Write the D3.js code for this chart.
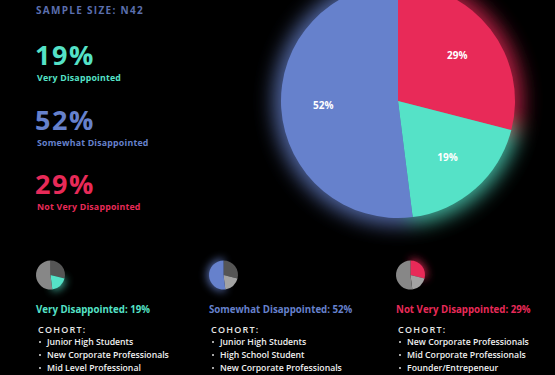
<!DOCTYPE html>
<html>
<head>
<meta charset="utf-8">
<script src="https://cdn.jsdelivr.net/npm/d3@7"></script>
<style>
  html, body { margin: 0; padding: 0; background: #000; }
  svg { display: block; }
  text { font-family: "Open Sans", "DejaVu Sans", sans-serif; }
</style>
</head>
<body>
<svg id="chart" width="555" height="375"></svg>
<script>
// the data
var categories = ["Very Disappointed", "Somewhat Disappointed", "Not Very Disappointed"];
var shares = [19, 52, 29];
var sampleSize = "N42";
// order of slices clockwise from 12 o'clock
var pieOrder = [2, 0, 1];
var cohorts = [
    ["Junior High Students", "New Corporate Professionals", "Mid Level Professional"],
    ["Junior High Students", "High School Student", "New Corporate Professionals"],
    ["New Corporate Professionals", "Mid Corporate Professionals", "Founder/Entrepeneur"]
];

var colors = ["#55e2c7", "#6681cc", "#e82a58"];
var greys = ["#a3a3a3", "#878787", "#555555"];

var svg = d3.select('#chart');
var defs = svg.append('defs');

function glow(id, sd){
    var f = defs.append('filter').attr('id', id)
        .attr('x', '-50%').attr('y', '-50%').attr('width', '200%').attr('height', '200%');
    f.append('feGaussianBlur').attr('stdDeviation', sd);
}
glow('bigGlow', 10);
glow('smallGlow', 4);

var pie = d3.pie().sort(null).value(i => shares[i]);
var slices = pie(pieOrder);

// big pie
var R = 117;
var big = svg.append('g').attr('transform', 'translate(398,101)');
var arc = d3.arc().innerRadius(0).outerRadius(R);
var glowArc = d3.arc().innerRadius(0).outerRadius(R + 7);
var labelArc = d3.arc().innerRadius(R * 0.64).outerRadius(R * 0.64);

big.append('g').attr('filter', 'url(#bigGlow)').attr('opacity', 0.8)
    .selectAll('path').data(slices).enter().append('path')
    .attr('d', glowArc).attr('fill', d => colors[d.data]);

big.selectAll('path.slice').data(slices).enter().append('path')
    .attr('class', 'slice')
    .attr('d', arc).attr('fill', d => colors[d.data]);

big.selectAll('text').data(slices).enter().append('text')
    .attr('transform', d => 'translate(' + labelArc.centroid(d) + ')')
    .attr('text-anchor', 'middle').attr('dy', '0.35em')
    .attr('fill', '#fff').attr('font-size', 10).attr('font-weight', 700)
    .text(d => shares[d.data] + '%');

// left summary
svg.append('text').attr('x', 36).attr('y', 14)
    .attr('fill', '#5b6fae').attr('font-size', 10).attr('font-weight', 700)
    .attr('letter-spacing', 1.3)
    .text('SAMPLE SIZE: ' + sampleSize);

var scY = d3.scalePoint().domain(categories).range([65, 194]);
var left = svg.selectAll('g.sum').data(categories).enter().append('g')
    .attr('class', 'sum')
    .attr('transform', d => 'translate(35,' + scY(d) + ')');
left.append('text').attr('font-size', 27).attr('font-weight', 700)
    .attr('letter-spacing', 1.5)
    .attr('fill', (d, i) => colors[i]).text((d, i) => shares[i] + '%');
left.append('text').attr('x', 2).attr('y', 16).attr('font-size', 8.8).attr('font-weight', 700)
    .attr('letter-spacing', 0.2)
    .attr('fill', (d, i) => colors[i]).text(d => d);

// bottom columns
var scX = d3.scaleOrdinal().domain(categories).range([36, 209, 396]);
var sr = 14.5;
var smallArc = d3.arc().innerRadius(0).outerRadius(sr);
var smallGlowArc = d3.arc().innerRadius(0).outerRadius(sr + 2);

var cols = svg.selectAll('g.col').data(categories).enter().append('g')
    .attr('class', 'col')
    .attr('transform', d => 'translate(' + scX(d) + ',0)');

cols.each(function(cat, ci){
    var g = d3.select(this);
    var p = g.append('g').attr('transform', 'translate(14.5,275)');
    p.append('path').attr('filter', 'url(#smallGlow)').attr('opacity', 0.8)
        .attr('d', smallGlowArc(slices.find(s => s.data === ci)))
        .attr('fill', colors[ci]);
    p.selectAll('path.s').data(slices).enter().append('path')
        .attr('class', 's').attr('d', smallArc)
        .attr('fill', d => d.data === ci ? colors[ci] : greys[d.data]);

    g.append('text').attr('y', 313).attr('font-size', 9.7).attr('font-weight', 700)
        .attr('fill', colors[ci]).text(cat + ': ' + shares[ci] + '%');
    g.append('text').attr('x', 2).attr('y', 333).attr('font-size', 9)
        .attr('letter-spacing', 1.2).attr('fill', '#e6e6e6').attr('font-weight', 600)
        .text('COHORT:');
    var items = g.selectAll('g.item').data(cohorts[ci]).enter().append('g')
        .attr('class', 'item')
        .attr('transform', (d, k) => 'translate(0,' + (345 + k * 13) + ')');
    items.append('circle').attr('cx', 4).attr('cy', -3).attr('r', 1).attr('fill', '#ddd');
    items.append('text').attr('x', 11).attr('font-size', 8.7).attr('font-weight', 600)
        .attr('fill', '#f0f0f0').text(d => d);
});
</script>
</body>
</html>
